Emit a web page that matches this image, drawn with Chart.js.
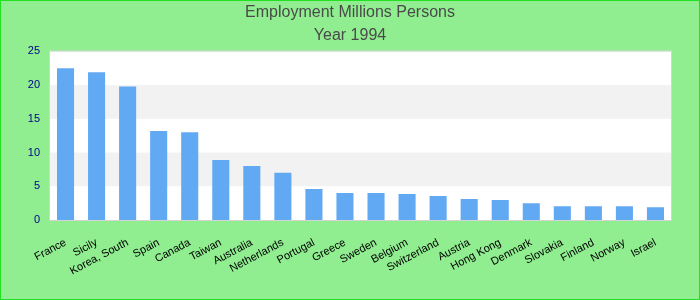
<!DOCTYPE html>
<html>
<head>
<meta charset="utf-8">
<script src="https://cdn.jsdelivr.net/npm/chart.js@4.4.1/dist/chart.umd.min.js"></script>
<style>
  html, body { margin: 0; padding: 0; }
  #wrap {
    width: 700px;
    height: 300px;
    box-sizing: border-box;
    border: 1px solid #22e022;
    background: #90ee90;
  }
</style>
</head>
<body>
<div id="wrap"><canvas id="chart" width="698" height="298"></canvas></div>
<script>
// chart data
const countries = ["France", "Sicily", "Korea, South", "Spain", "Canada", "Taiwan", "Australia",
  "Netherlands", "Portugal", "Greece", "Sweden", "Belgium", "Switzerland", "Austria",
  "Hong Kong", "Denmark", "Slovakia", "Finland", "Norway", "Israel"];
const employment = [22.5, 21.9, 19.8, 13.2, 13.0, 8.9, 8.0, 7.0, 4.6, 4.0, 4.0, 3.85, 3.55,
  3.1, 2.95, 2.5, 2.05, 2.05, 2.05, 1.9];
const title_lines = ["Employment Millions Persons", "Year 1994"];
const y_max = 25;
const y_step = 5;

// grey bands every other step + light border round the plot
const plotBack = {
  id: "plotBack",
  beforeDatasetsDraw(chart) {
    const ctx = chart.ctx;
    const a = chart.chartArea;
    const y = chart.scales.y;
    ctx.save();
    ctx.fillStyle = "#ffffff";
    ctx.fillRect(a.left, a.top, a.right - a.left, a.bottom - a.top);
    ctx.fillStyle = "#f2f2f2";
    for (let v = y_step; v < y_max; v += 2 * y_step) {
      const top = y.getPixelForValue(v + y_step);
      const bot = y.getPixelForValue(v);
      ctx.fillRect(a.left, top, a.right - a.left, bot - top);
    }
    ctx.restore();
  },
  afterDatasetsDraw(chart) {
    const ctx = chart.ctx;
    const a = chart.chartArea;
    ctx.save();
    ctx.strokeStyle = "#d4d4d4";
    ctx.lineWidth = 1;
    ctx.strokeRect(a.left - 0.5, a.top - 0.5, a.right - a.left + 1, a.bottom - a.top + 1);
    ctx.restore();
  }
};

const ctx = document.getElementById("chart").getContext("2d");
const chart = new Chart(ctx, {
  type: "bar",
  data: {
    labels: countries,
    datasets: [{
      label: "Employment",
      data: employment,
      backgroundColor: "#62a9f4",
      borderWidth: 0,
      barPercentage: 0.55,
      categoryPercentage: 1.0
    }]
  },
  options: {
    responsive: false,
    animation: false,
    layout: { padding: 0 },
    plugins: {
      legend: { display: false },
      tooltip: { enabled: false },
      title: {
        display: true,
        text: title_lines,
        color: "#4a4a4a",
        font: { family: "Liberation Sans, Arial", size: 16, weight: "normal", lineHeight: 1.45 },
        padding: { top: 0, bottom: 4 }
      }
    },
    scales: {
      x: {
        grid: { display: false },
        border: { display: false },
        ticks: {
          color: "#000000",
          font: { family: "Liberation Sans, Arial", size: 11 },
          minRotation: 28,
          maxRotation: 28,
          autoSkip: false,
          padding: 8
        },
        afterFit(scale) { scale.height = 79; }
      },
      y: {
        min: 0,
        max: y_max,
        grid: { display: false, drawTicks: false },
        border: { display: false },
        ticks: {
          stepSize: y_step,
          color: "#00008b",
          font: { family: "Liberation Sans, Arial", size: 11 },
          padding: 10
        },
        afterFit(scale) { scale.width = 49; }
      },
      // empty right axis, only keeps a green margin on the right
      yRight: {
        position: "right",
        min: 0,
        max: y_max,
        grid: { display: false, drawTicks: false },
        border: { display: false },
        ticks: { display: false },
        afterFit(scale) { scale.width = 28; }
      }
    }
  },
  plugins: [plotBack]
});
</script>
</body>
</html>
